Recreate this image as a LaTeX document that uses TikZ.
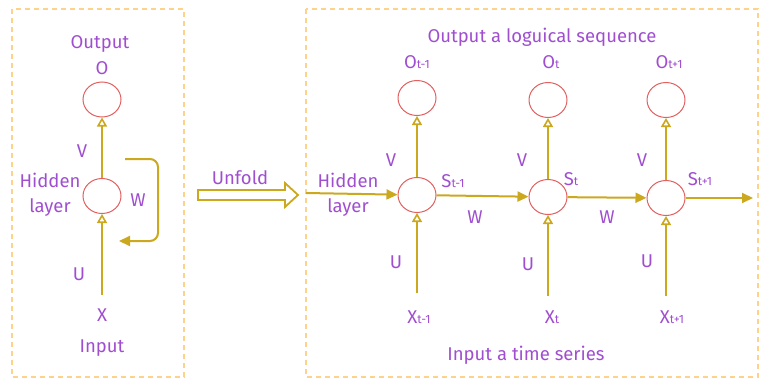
\documentclass[tikz,border=0pt]{standalone}
\usepackage{fontspec}
\setmainfont{Fira Sans}
\usetikzlibrary{arrows.meta,shapes.geometric}
\definecolor{txt}{RGB}{160,78,208}
\definecolor{ring}{RGB}{226,96,96}
\definecolor{gold}{RGB}{203,168,30}
\definecolor{frame}{RGB}{255,210,140}
\newcommand\lowidx[1]{{\fontsize{12}{13}\selectfont #1}}
\begin{document}
\begin{tikzpicture}[x=1pt,y=-1pt,
  lbl/.style={text=txt, font=\fontsize{18.5}{20}\selectfont, inner sep=0pt, anchor=base},
  unit/.style={ellipse, draw=ring, line width=1pt, minimum width=38pt, minimum height=35pt, inner sep=0pt},
  openarr/.style={draw=gold, line width=2pt, -{Triangle[open, length=9pt, width=10pt, line width=1.6pt]}},
  fillarr/.style={draw=gold, line width=2pt, -{Triangle[length=11pt, width=10pt]}},
  panel/.style={draw=frame, line width=1.2pt, dash pattern=on 5pt off 4pt}]
\useasboundingbox (0,0) rectangle (763,380);

% panels
\draw[panel] (12,9) rectangle (184,377);
\draw[panel] (306,9) rectangle (758,377);

% folded network
\node[unit] (o) at (102,99.5) {};
\node[unit] (h) at (102,196) {};
\coordinate (x) at (102,295);
\draw[openarr] (x) -- (h);
\draw[openarr] (h) -- (o);
\coordinate (w1) at (125,159);
\coordinate (w2) at (119,241);
\draw[fillarr, rounded corners=8pt] (w1) -- (158,159) -- (158,241) -- (w2);

\node[lbl] (tout) at (100,48) {Output};
\node[lbl] (to) at (102,74) {O};
\node[lbl] (tv) at (82,157) {V};
\node[lbl] (th1) at (50,187) {Hidden};
\node[lbl] (th2) at (50,212) {layer};
\node[lbl] (tw) at (138,206) {W};
\node[lbl] (tu) at (79,280) {U};
\node[lbl] (tx) at (102,321) {X};
\node[lbl] (tin) at (102,352) {Input};

% unfold arrow
\draw[draw=gold, line width=1.8pt, line join=miter]
  (198,190) -- (285,190) -- (285,183) -- (298,195) -- (285,207) -- (285,200) -- (198,200) -- cycle;
\node[lbl] (tunf) at (240,184) {Unfold};

% unfolded network
\node[unit] (o1) at (417,98) {};
\node[unit] (h1) at (417,195) {};
\node[unit] (o2) at (548,100) {};
\node[unit] (h2) at (548,197) {};
\node[unit] (o3) at (666,100) {};
\node[unit] (h3) at (666,198) {};
\coordinate (x1) at (417,293);
\coordinate (x2) at (548,296);
\coordinate (x3) at (666,296);
\coordinate (hin) at (306,193);
\coordinate (hout) at (753,198);

\draw[openarr] (x1) -- (h1);
\draw[openarr] (x2) -- (h2);
\draw[openarr] (x3) -- (h3);
\draw[openarr] (h1) -- (o1);
\draw[openarr] (h2) -- (o2);
\draw[openarr] (h3) -- (o3);
\draw[fillarr] (hin) -- (h1);
\draw[fillarr] (h1) -- (h2);
\draw[fillarr] (h2) -- (h3);
\draw[fillarr] (h3) -- (hout);

\node[lbl] (tseqo) at (542,42) {Output a loguical sequence};
\node[lbl] (tseqi) at (526,360) {Input a time series};
\node[lbl] (th1r) at (348,187) {Hidden};
\node[lbl] (th2r) at (348,212) {layer};

\node[lbl] (to1) at (417,68) {O\lowidx{t-1}};
\node[lbl] (to2) at (551,68) {O\lowidx{t}};
\node[lbl] (to3) at (669,68) {O\lowidx{t+1}};
\node[lbl] (tv1) at (391,166) {V};
\node[lbl] (tv2) at (522,166) {V};
\node[lbl] (tv3) at (642,166) {V};
\node[lbl] (ts1) at (453,187) {S\lowidx{t-1}};
\node[lbl] (ts2) at (571,185) {S\lowidx{t}};
\node[lbl] (ts3) at (700,185) {S\lowidx{t+1}};
\node[lbl] (tw1) at (475,223) {W};
\node[lbl] (tw2) at (607,223) {W};
\node[lbl] (tu1) at (396,268) {U};
\node[lbl] (tu2) at (528,270) {U};
\node[lbl] (tu3) at (647,267) {U};
\node[lbl] (tx1) at (419,323) {X\lowidx{t-1}};
\node[lbl] (tx2) at (552,323) {X\lowidx{t}};
\node[lbl] (tx3) at (672,323) {X\lowidx{t+1}};
\end{tikzpicture}
\end{document}
